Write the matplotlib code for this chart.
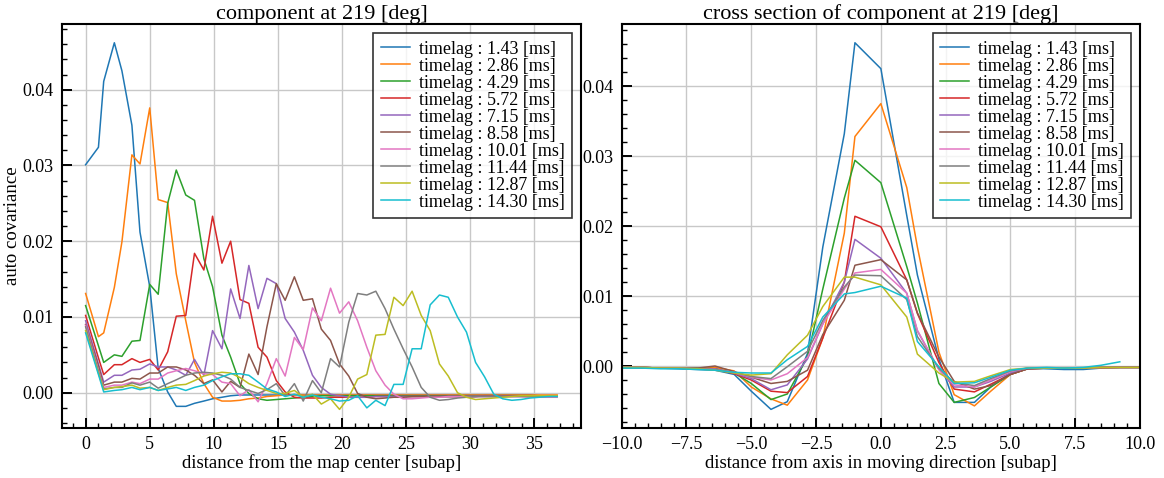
import numpy as np
import matplotlib
matplotlib.use('Agg')
import matplotlib.pyplot as plt
from matplotlib.ticker import AutoMinorLocator, MultipleLocator

plt.rcParams['font.family'] = ['Liberation Serif', 'DejaVu Serif']

# --- data ---
timelags = [1.43, 2.86, 4.29, 5.72, 7.15, 8.58, 10.01, 11.44, 12.87, 14.30]

# left panel: distance from the map center [subap]
x_left = [0.0, 1.0, 1.41, 2.24, 2.83, 3.61, 4.24, 5.0, 5.66, 6.4, 7.07, 7.81, 8.49, 9.22,
          9.9, 10.63, 11.31, 12.04, 12.73, 13.45, 14.14, 14.87, 15.56, 16.28, 16.97, 17.69,
          18.38, 19.1, 19.8, 20.52, 21.21, 21.93, 22.63, 23.35, 24.04, 24.76, 25.46, 26.17,
          26.87, 27.59, 28.28, 29.0, 29.7, 30.41, 31.11, 31.83, 32.53, 33.24, 33.94, 34.66,
          35.36, 36.07, 36.77]

cov_143 = [0.0301, 0.0324, 0.0411, 0.0462, 0.0425, 0.0353, 0.0212, 0.0140, 0.0032, 0.0001,
           -0.0018, -0.0018, -0.0014, -0.0011, -0.0008, -0.0006, -0.0004, -0.0003, -0.0003, -0.0003,
           -0.0003, -0.0003, -0.0003, -0.0003, -0.0003, -0.0003, -0.0003, -0.0003, -0.0003, -0.0003,
           -0.0003, -0.0003, -0.0003, -0.0003, -0.0003, -0.0003, -0.0003, -0.0003, -0.0003, -0.0003,
           -0.0003, -0.0003, -0.0003, -0.0003, -0.0003, -0.0003, -0.0003, -0.0003, -0.0003, -0.0003,
           -0.0004, -0.0004, -0.0004]
cov_286 = [0.0131, 0.0074, 0.0079, 0.0139, 0.0199, 0.0314, 0.0302, 0.0376, 0.0255, 0.0251,
           0.0157, 0.0095, 0.0040, 0.0012, -0.0006, -0.0011, -0.0011, -0.0010, -0.0008, -0.0007,
           -0.0005, -0.0004, -0.0003, -0.0003, -0.0003, -0.0003, -0.0003, -0.0003, -0.0003, -0.0003,
           -0.0003, -0.0003, -0.0003, -0.0003, -0.0003, -0.0003, -0.0003, -0.0003, -0.0003, -0.0003,
           -0.0003, -0.0003, -0.0003, -0.0003, -0.0003, -0.0003, -0.0003, -0.0003, -0.0003, -0.0003,
           -0.0003, -0.0003, -0.0003]
cov_429 = [0.0115, 0.0062, 0.0040, 0.0050, 0.0048, 0.0068, 0.0069, 0.0143, 0.0130, 0.0250,
           0.0294, 0.0261, 0.0254, 0.0177, 0.0140, 0.0076, 0.0047, 0.0012, -0.0001, -0.0008,
           -0.0010, -0.0009, -0.0008, -0.0007, -0.0006, -0.0005, -0.0004, -0.0004, -0.0004, -0.0004,
           -0.0004, -0.0004, -0.0004, -0.0004, -0.0004, -0.0004, -0.0004, -0.0004, -0.0004, -0.0004,
           -0.0004, -0.0004, -0.0004, -0.0004, -0.0004, -0.0004, -0.0004, -0.0004, -0.0004, -0.0004,
           -0.0004, -0.0004, -0.0004]
cov_572 = [0.0102, 0.0046, 0.0024, 0.0037, 0.0037, 0.0045, 0.0040, 0.0044, 0.0030, 0.0054,
           0.0101, 0.0102, 0.0184, 0.0162, 0.0233, 0.0171, 0.0200, 0.0123, 0.0118, 0.0060,
           0.0047, 0.0016, 0.0001, -0.0006, -0.0007, -0.0007, -0.0007, -0.0006, -0.0006, -0.0006,
           -0.0006, -0.0006, -0.0005, -0.0005, -0.0005, -0.0005, -0.0005, -0.0005, -0.0005, -0.0005,
           -0.0005, -0.0005, -0.0005, -0.0005, -0.0004, -0.0004, -0.0004, -0.0004, -0.0004, -0.0004,
           -0.0004, -0.0004, -0.0004]
cov_715 = [0.0095, 0.0038, 0.0014, 0.0023, 0.0023, 0.0030, 0.0031, 0.0038, 0.0034, 0.0034,
           0.0030, 0.0023, 0.0044, 0.0023, 0.0082, 0.0058, 0.0137, 0.0098, 0.0168, 0.0111,
           0.0151, 0.0144, 0.0098, 0.0080, 0.0056, 0.0023, 0.0007, -0.0002, -0.0004, -0.0006,
           -0.0006, -0.0006, -0.0005, -0.0005, -0.0005, -0.0005, -0.0005, -0.0005, -0.0005, -0.0005,
           -0.0005, -0.0005, -0.0005, -0.0005, -0.0005, -0.0005, -0.0005, -0.0005, -0.0005, -0.0005,
           -0.0005, -0.0005, -0.0005]
cov_858 = [0.0090, 0.0035, 0.0010, 0.0014, 0.0014, 0.0019, 0.0018, 0.0026, 0.0026, 0.0034,
           0.0034, 0.0030, 0.0023, 0.0012, 0.0017, 0.0001, 0.0015, 0.0007, 0.0051, 0.0024,
           0.0087, 0.0144, 0.0122, 0.0153, 0.0122, 0.0124, 0.0084, 0.0069, 0.0038, 0.0022,
           -0.0001, -0.0006, -0.0008, -0.0007, -0.0006, -0.0006, -0.0005, -0.0005, -0.0005, -0.0005,
           -0.0005, -0.0005, -0.0005, -0.0005, -0.0004, -0.0004, -0.0004, -0.0004, -0.0004, -0.0004,
           -0.0004, -0.0004, -0.0004]
cov_1001 = [0.0089, 0.0030, 0.0007, 0.0010, 0.0010, 0.0014, 0.0012, 0.0018, 0.0018, 0.0026,
            0.0029, 0.0032, 0.0029, 0.0025, 0.0024, 0.0014, 0.0012, -0.0004, 0.0004, -0.0012,
            0.0012, 0.0045, 0.0022, 0.0073, 0.0057, 0.0112, 0.0095, 0.0138, 0.0105, 0.0120,
            0.0095, 0.0060, 0.0029, 0.0010, -0.0002, -0.0008, -0.0008, -0.0007, -0.0006, -0.0006,
            -0.0005, -0.0005, -0.0005, -0.0005, -0.0005, -0.0005, -0.0005, -0.0005, -0.0005, -0.0006,
            -0.0006, -0.0006, -0.0006]
cov_1144 = [0.0087, 0.0028, 0.0005, 0.0007, 0.0007, 0.0013, 0.0010, 0.0014, 0.0006, 0.0012,
            0.0017, 0.0023, 0.0026, 0.0027, 0.0026, 0.0023, 0.0018, 0.0007, 0.0003, -0.0001,
            0.0004, 0.0012, -0.0004, 0.0012, -0.0011, 0.0016, 0.0000, 0.0045, 0.0034, 0.0093,
            0.0131, 0.0129, 0.0134, 0.0111, 0.0084, 0.0058, 0.0034, 0.0007, -0.0006, -0.0010,
            -0.0009, -0.0007, -0.0006, -0.0005, -0.0005, -0.0005, -0.0005, -0.0005, -0.0005, -0.0005,
            -0.0005, -0.0005, -0.0005]
cov_1287 = [0.0082, 0.0026, 0.0004, 0.0007, 0.0008, 0.0010, 0.0006, 0.0007, 0.0003, 0.0007,
            0.0010, 0.0011, 0.0016, 0.0022, 0.0025, 0.0027, 0.0026, 0.0020, 0.0012, 0.0007,
            0.0003, -0.0001, -0.0001, 0.0003, -0.0006, -0.0002, -0.0015, -0.0008, -0.0022, -0.0006,
            0.0018, 0.0024, 0.0076, 0.0077, 0.0126, 0.0115, 0.0134, 0.0102, 0.0082, 0.0038,
            0.0022, 0.0000, -0.0006, -0.0009, -0.0008, -0.0007, -0.0006, -0.0005, -0.0004, -0.0004,
            -0.0004, -0.0004, -0.0004]
cov_1430 = [0.0079, 0.0024, 0.0001, 0.0003, 0.0004, 0.0007, 0.0004, 0.0007, 0.0003, 0.0005,
            0.0007, 0.0003, 0.0007, 0.0010, 0.0016, 0.0021, 0.0025, 0.0025, 0.0023, 0.0014,
            0.0005, 0.0001, -0.0005, -0.0002, -0.0006, -0.0003, -0.0006, -0.0008, -0.0011, -0.0010,
            -0.0004, -0.0020, -0.0010, -0.0017, 0.0011, 0.0011, 0.0058, 0.0058, 0.0116, 0.0129,
            0.0126, 0.0100, 0.0080, 0.0040, 0.0021, -0.0002, -0.0008, -0.0010, -0.0009, -0.0007,
            -0.0006, -0.0005, -0.0005]

# right panel: distance from axis in moving direction [subap]
x_right = [-10.63, -9.9, -9.22, -8.49, -7.81, -7.07, -6.4, -5.66, -5.0, -4.24, -3.61, -2.83,
           -2.24, -1.41, -1.0, 0.0, 1.0, 1.41, 2.24, 2.83, 3.61, 4.24, 5.0, 5.66, 6.4, 7.07,
           7.81, 8.49, 9.22, 9.9, 10.63]

cs_143 = [-0.0002, -0.0002, -0.0003, -0.0003, -0.0004, -0.0005, -0.0006, -0.0012, -0.0036, -0.0062,
          -0.0051, 0.0018, 0.0170, 0.0332, 0.0462, 0.0425, 0.0215, 0.0130, 0.0010, -0.0052,
          -0.0052, -0.0030, -0.0010, -0.0003, -0.0004, -0.0005, -0.0005, -0.0003, -0.0002, -0.0002,
          -0.0002]
cs_286 = [-0.0002, -0.0002, -0.0002, -0.0003, -0.0003, -0.0004, -0.0002, -0.0007, -0.0030, -0.0047,
          -0.0056, -0.0020, 0.0040, 0.0190, 0.0328, 0.0375, 0.0255, 0.0170, 0.0020, -0.0041,
          -0.0057, -0.0036, -0.0012, -0.0004, -0.0003, -0.0003, -0.0003, -0.0003, -0.0002, -0.0002,
          -0.0002]
cs_429 = [-0.0002, -0.0002, -0.0002, -0.0003, -0.0003, -0.0003, -0.0004, -0.0010, -0.0025, -0.0048,
          -0.0040, 0.0013, 0.0110, 0.0240, 0.0294, 0.0262, 0.0142, 0.0090, -0.0025, -0.0052,
          -0.0045, -0.0030, -0.0012, -0.0004, -0.0003, -0.0003, -0.0003, -0.0002, -0.0002, -0.0002,
          -0.0002]
cs_572 = [-0.0002, -0.0002, -0.0002, -0.0003, -0.0003, -0.0004, -0.0004, -0.0011, -0.0020, -0.0036,
          -0.0038, -0.0015, 0.0040, 0.0120, 0.0214, 0.0199, 0.0123, 0.0075, 0.0005, -0.0033,
          -0.0037, -0.0026, -0.0012, -0.0004, -0.0003, -0.0003, -0.0003, -0.0002, -0.0002, -0.0002,
          -0.0002]
cs_715 = [-0.0002, -0.0002, -0.0002, -0.0003, -0.0003, -0.0004, -0.0004, -0.0010, -0.0018, -0.0034,
          -0.0027, 0.0010, 0.0060, 0.0120, 0.0181, 0.0154, 0.0104, 0.0050, -0.0005, -0.0030,
          -0.0030, -0.0022, -0.0010, -0.0004, -0.0003, -0.0003, -0.0003, -0.0002, -0.0002, -0.0002,
          -0.0002]
cs_858 = [-0.0002, -0.0002, -0.0002, -0.0003, -0.0003, -0.0003, 0.0000, -0.0008, -0.0016, -0.0025,
          -0.0022, -0.0006, 0.0045, 0.0094, 0.0144, 0.0152, 0.0123, 0.0076, 0.0013, -0.0022,
          -0.0033, -0.0028, -0.0012, -0.0004, -0.0003, -0.0003, -0.0003, -0.0002, -0.0002, -0.0002,
          -0.0002]
cs_1001 = [-0.0002, -0.0002, -0.0002, -0.0003, -0.0003, -0.0004, -0.0005, -0.0009, -0.0016, -0.0020,
           -0.0011, 0.0012, 0.0060, 0.0110, 0.0133, 0.0138, 0.0104, 0.0051, -0.0005, -0.0027,
           -0.0030, -0.0020, -0.0008, -0.0003, -0.0003, -0.0003, -0.0003, -0.0002, -0.0002, -0.0002,
           -0.0002]
cs_1144 = [-0.0002, -0.0002, -0.0002, -0.0003, -0.0003, -0.0004, -0.0005, -0.0009, -0.0015, -0.0018,
           -0.0001, 0.0021, 0.0065, 0.0113, 0.0130, 0.0129, 0.0095, 0.0042, -0.0003, -0.0024,
           -0.0028, -0.0018, -0.0007, -0.0003, -0.0003, -0.0003, -0.0003, -0.0002, -0.0002, -0.0002,
           -0.0002]
cs_1287 = [-0.0002, -0.0002, -0.0002, -0.0003, -0.0003, -0.0004, -0.0006, -0.0010, -0.0013, -0.0011,
           0.0016, 0.0044, 0.0085, 0.0127, 0.0127, 0.0116, 0.0070, 0.0017, -0.0010, -0.0023,
           -0.0022, -0.0014, -0.0005, -0.0003, -0.0003, -0.0003, -0.0003, -0.0002, -0.0002, -0.0002,
           -0.0002]
cs_1430 = [-0.0003, -0.0003, -0.0003, -0.0004, -0.0004, -0.0005, -0.0006, -0.0009, -0.0010, -0.0010,
           0.0009, 0.0028, 0.0070, 0.0103, 0.0105, 0.0114, 0.0097, 0.0035, -0.0001, -0.0025,
           -0.0024, -0.0016, -0.0006, -0.0003, -0.0002, -0.0003, -0.0002, 0.0001, 0.0006, np.nan,
           np.nan]

left_series = [cov_143, cov_286, cov_429, cov_572, cov_715, cov_858, cov_1001, cov_1144, cov_1287, cov_1430]
right_series = [cs_143, cs_286, cs_429, cs_572, cs_715, cs_858, cs_1001, cs_1144, cs_1287, cs_1430]
labels = [f"timelag : {t:.2f} [ms]" for t in timelags]

fig = plt.figure(figsize=(11.64, 4.78), dpi=100)
ax1 = fig.add_axes([0.0533, 0.1052, 0.4456, 0.8437])
ax2 = fig.add_axes([0.5341, 0.1052, 0.4453, 0.8437])


def style(ax):
    ax.grid(True, color='#c8c8c8', lw=1.0)
    ax.set_axisbelow(True)
    ax.xaxis.set_minor_locator(AutoMinorLocator(5))
    ax.yaxis.set_minor_locator(AutoMinorLocator(5))
    ax.tick_params(which='major', direction='in', length=7, width=1.4, labelsize=13, pad=6)
    ax.tick_params(which='minor', direction='in', length=3.5, width=1.0)
    for s in ax.spines.values():
        s.set_linewidth(1.5)
    leg = ax.legend(loc='upper right', fontsize=13, fancybox=False, edgecolor='black',
                    labelspacing=0.0, handlelength=1.6, handletextpad=0.5, borderpad=0.4,
                    borderaxespad=0.5)
    leg.get_frame().set_linewidth(1.2)


for ys, lab in zip(left_series, labels):
    ax1.plot(x_left, ys, lw=1.1, label=lab)
ax1.xaxis.set_major_locator(MultipleLocator(5))
ax1.set_xlabel('distance from the map center [subap]', fontsize=13.5, labelpad=1)
ax1.set_ylabel('auto covariance', fontsize=13.5, labelpad=1)
ax1.set_title('component at 219 [deg]', fontsize=16, pad=3)
style(ax1)

for ys, lab in zip(right_series, labels):
    ax2.plot(x_right, ys, lw=1.1, label=lab)
ax2.set_xlim(-10, 10)
ax2.set_xlabel('distance from axis in moving direction [subap]', fontsize=13.5, labelpad=1)
ax2.set_title('cross section of component at 219 [deg]', fontsize=16, pad=3)
style(ax2)

fig.savefig('out.png', dpi=100)
